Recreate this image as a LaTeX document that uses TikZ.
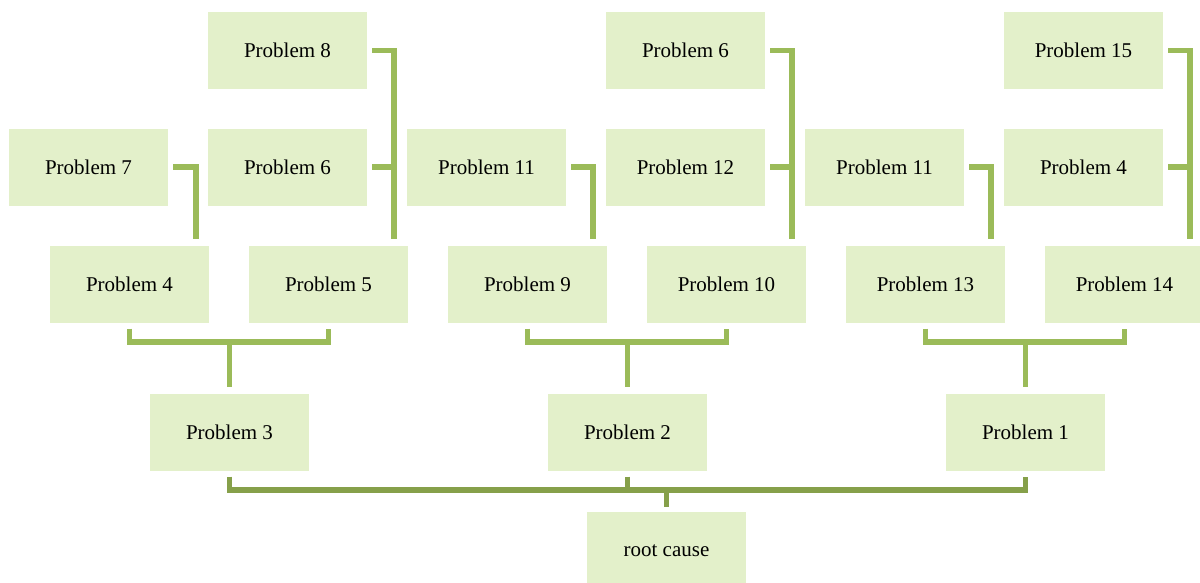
\documentclass[tikz,border=0pt]{standalone}
\usepackage{fontspec}
\setmainfont{Liberation Serif}
\definecolor{boxfill}{HTML}{E3F0CA}
\definecolor{conncol}{HTML}{9BBB59}
\definecolor{rootcol}{HTML}{86A04A}
\begin{document}
\begin{tikzpicture}[x=1pt,y=-1pt,
  pbox/.style={fill=boxfill,draw=none,minimum width=159pt,minimum height=77pt,inner sep=0pt,
    font=\fontsize{21}{25}\selectfont},
  conn/.style={draw=conncol,line width=5.5pt,line join=miter},
  rconn/.style={draw=rootcol,line width=5.5pt,line join=miter}]
\useasboundingbox (0,0) rectangle (1200,582);
% row A
\node[pbox] (p8)  at (287.5,50.5) {Problem 8};
\node[pbox] (p6b) at (685.5,50.5) {Problem 6};
\node[pbox] (p15) at (1083.5,50.5) {Problem 15};
% row B
\node[pbox] (p7)  at (88.5,167) {Problem 7};
\node[pbox] (p6a) at (287.5,167) {Problem 6};
\node[pbox] (p11a) at (486.5,167) {Problem 11};
\node[pbox] (p12) at (685.5,167) {Problem 12};
\node[pbox] (p11b) at (884.5,167) {Problem 11};
\node[pbox] (p4b) at (1083.5,167) {Problem 4};
% row C
\node[pbox] (p4)  at (129.5,284) {Problem 4};
\node[pbox] (p5)  at (328.5,284) {Problem 5};
\node[pbox] (p9)  at (527.5,284) {Problem 9};
\node[pbox] (p10) at (726.5,284) {Problem 10};
\node[pbox] (p13) at (925.5,284) {Problem 13};
\node[pbox] (p14) at (1124.5,284) {Problem 14};
% row D
\node[pbox] (p3) at (229.5,432) {Problem 3};
\node[pbox] (p2) at (627.5,432) {Problem 2};
\node[pbox] (p1) at (1025.5,432) {Problem 1};
% root
\node[pbox] (root) at (666.5,550.5) {root cause};
% upper connectors
\draw[conn] ([xshift=5pt]p7.east) -| ([xshift=-13pt,yshift=6pt]p4.north east);
\draw[conn] ([xshift=5pt]p8.east) -| ([xshift=-14pt,yshift=6pt]p5.north east);
\draw[conn] ([xshift=5pt]p6a.east) -| ([xshift=-14pt,yshift=6pt]p5.north east);
\draw[conn] ([xshift=5pt]p11a.east) -| ([xshift=-14pt,yshift=6pt]p9.north east);
\draw[conn] ([xshift=5pt]p6b.east) -| ([xshift=-14pt,yshift=6pt]p10.north east);
\draw[conn] ([xshift=5pt]p12.east) -| ([xshift=-14pt,yshift=6pt]p10.north east);
\draw[conn] ([xshift=5pt]p11b.east) -| ([xshift=-14pt,yshift=6pt]p13.north east);
\draw[conn] ([xshift=5pt]p15.east) -| ([xshift=-14pt,yshift=6pt]p14.north east);
\draw[conn] ([xshift=5pt]p4b.east) -| ([xshift=-14pt,yshift=6pt]p14.north east);
% brackets
\coordinate (b1) at (229.5,342);
\coordinate (b2) at (627.5,342);
\coordinate (b3) at (1025.5,342);
\draw[conn] ([yshift=-6pt]p4.south) |- (b1) -| ([yshift=-6pt]p5.south);
\draw[conn] (b1) -- ([yshift=6pt]p3.north);
\draw[conn] ([yshift=-6pt]p9.south) |- (b2) -| ([yshift=-6pt]p10.south);
\draw[conn] (b2) -- ([yshift=6pt]p2.north);
\draw[conn] ([yshift=-6pt]p13.south) |- (b3) -| ([yshift=-6pt]p14.south);
\draw[conn] (b3) -- ([yshift=6pt]p1.north);
% root bracket
\coordinate (rb) at (666.5,490);
\draw[rconn] ([yshift=-6pt]p3.south) |- (rb) -| ([yshift=-6pt]p1.south);
\draw[rconn] ([yshift=-6pt]p2.south) -- (p2.south |- rb);
\draw[rconn] (rb) -- ([yshift=5pt]root.north);
\end{tikzpicture}
\end{document}
